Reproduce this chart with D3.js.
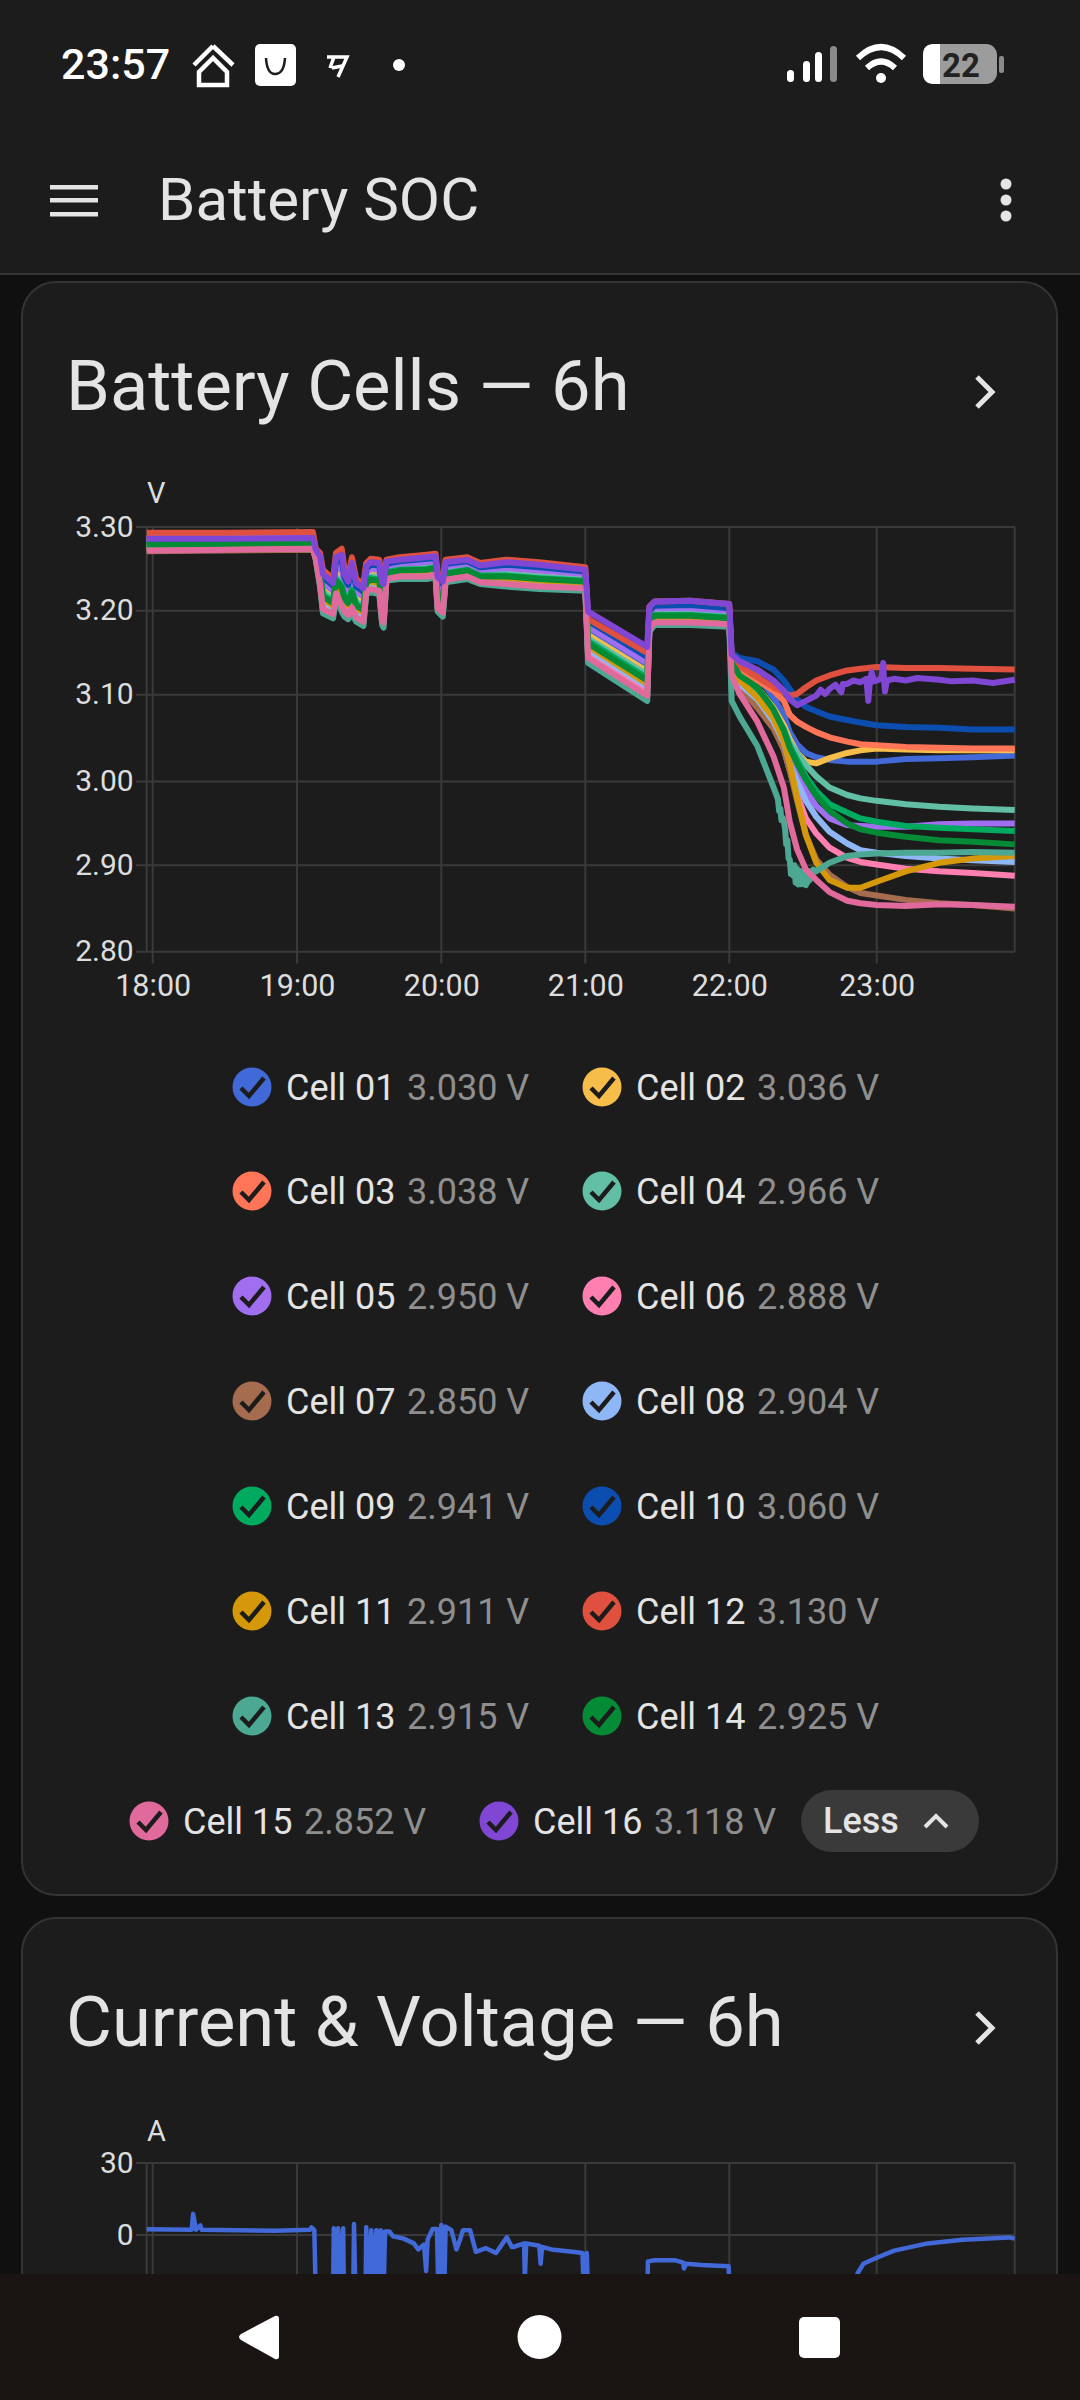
<!DOCTYPE html>
<html>
<head>
<meta charset="utf-8">
<title>Battery SOC</title>
<script src="https://cdn.jsdelivr.net/npm/d3@7"></script>
<style>
  html, body { margin: 0; padding: 0; background: #101010; }
  svg { display: block; font-family: Roboto, sans-serif; }
</style>
</head>
<body>
<div id="screen"></div>
<script>
// Time axis of the cell chart, in decimal hours
const times = [17.96,18.5,19.11,19.13,19.16,19.18,19.25,19.27,19.31,19.33,19.355,19.38,19.41,19.46,19.48,19.51,19.57,19.59,19.60,19.62,19.71,19.90,19.96,19.975,20.01,20.03,20.18,20.27,20.45,20.68,21.0,21.02,21.43,21.445,21.48,21.73,22.0,
  22.016,22.07,22.19,22.30,22.37,22.41,22.46,22.52,22.59,22.68,22.80,22.89,23.0,23.2,23.43,23.66,23.95];

const cell01 = [3.285,3.285,3.286,3.269,3.254,3.230,3.221,3.250,3.247,3.229,3.222,3.240,3.220,3.214,3.244,3.248,3.246,3.219,3.217,3.252,3.255,3.257,3.258,3.228,3.223,3.251,3.255,3.248,3.249,3.246,3.242,3.177,3.134,3.194,3.201,3.202,3.198,
  3.146,3.138,3.123,3.097,3.077,3.057,3.043,3.033,3.028,3.025,3.023,3.023,3.023,3.026,3.027,3.028,3.030];
const cell02 = [3.282,3.283,3.284,3.268,3.250,3.225,3.216,3.245,3.239,3.223,3.217,3.233,3.215,3.209,3.240,3.244,3.242,3.214,3.211,3.249,3.252,3.254,3.255,3.223,3.218,3.249,3.252,3.245,3.246,3.243,3.239,3.171,3.128,3.191,3.198,3.199,3.196,
  3.140,3.128,3.109,3.085,3.065,3.049,3.033,3.023,3.021,3.027,3.033,3.036,3.038,3.037,3.036,3.036,3.036];
const cell03 = [3.287,3.287,3.288,3.271,3.258,3.235,3.226,3.255,3.254,3.234,3.227,3.247,3.225,3.219,3.247,3.252,3.250,3.225,3.223,3.254,3.257,3.259,3.261,3.232,3.228,3.254,3.257,3.250,3.253,3.250,3.245,3.183,3.140,3.197,3.204,3.204,3.201,
  3.144,3.132,3.117,3.105,3.093,3.077,3.069,3.063,3.057,3.051,3.046,3.043,3.042,3.040,3.039,3.038,3.038];
const cell04 = [3.281,3.282,3.283,3.267,3.248,3.222,3.214,3.241,3.235,3.220,3.214,3.229,3.211,3.206,3.238,3.241,3.240,3.210,3.208,3.248,3.250,3.252,3.253,3.221,3.216,3.247,3.250,3.244,3.244,3.241,3.237,3.167,3.124,3.189,3.196,3.197,3.194,
  3.138,3.123,3.105,3.081,3.061,3.045,3.033,3.019,3.006,2.993,2.984,2.980,2.977,2.973,2.970,2.968,2.966];
const cell05 = [3.286,3.286,3.287,3.270,3.257,3.233,3.224,3.253,3.252,3.232,3.225,3.244,3.223,3.217,3.246,3.250,3.249,3.223,3.221,3.253,3.256,3.258,3.260,3.230,3.226,3.253,3.256,3.249,3.251,3.248,3.244,3.181,3.138,3.196,3.203,3.203,3.200,
  3.134,3.117,3.097,3.073,3.053,3.033,3.013,2.989,2.971,2.956,2.948,2.947,2.946,2.946,2.949,2.950,2.950];
const cell06 = [3.275,3.275,3.276,3.264,3.236,3.207,3.200,3.227,3.214,3.204,3.200,3.210,3.197,3.192,3.227,3.230,3.228,3.194,3.192,3.241,3.243,3.244,3.246,3.208,3.202,3.239,3.243,3.237,3.235,3.232,3.230,3.150,3.106,3.181,3.189,3.189,3.186,
  3.130,3.111,3.093,3.063,3.037,3.013,2.985,2.956,2.938,2.921,2.909,2.904,2.901,2.896,2.893,2.891,2.888];
const cell07 = [3.271,3.272,3.273,3.262,3.231,3.201,3.194,3.220,3.204,3.197,3.193,3.202,3.191,3.185,3.223,3.225,3.223,3.187,3.184,3.238,3.240,3.240,3.242,3.202,3.196,3.236,3.240,3.234,3.231,3.228,3.226,3.142,3.097,3.177,3.185,3.185,3.183,
  3.125,3.109,3.085,3.061,3.037,3.013,2.977,2.936,2.907,2.889,2.875,2.868,2.865,2.860,2.856,2.854,2.850];
const cell08 = [3.276,3.277,3.278,3.264,3.239,3.211,3.203,3.230,3.218,3.208,3.203,3.214,3.200,3.195,3.230,3.232,3.231,3.198,3.195,3.242,3.245,3.246,3.247,3.211,3.205,3.241,3.245,3.238,3.237,3.234,3.231,3.154,3.110,3.183,3.190,3.191,3.188,
  3.130,3.113,3.095,3.069,3.045,3.021,3.000,2.977,2.958,2.940,2.926,2.918,2.915,2.911,2.908,2.906,2.904];
const cell09 = [3.280,3.280,3.281,3.266,3.245,3.219,3.211,3.238,3.230,3.217,3.211,3.225,3.208,3.203,3.236,3.239,3.237,3.207,3.204,3.246,3.249,3.250,3.252,3.218,3.213,3.245,3.249,3.242,3.242,3.239,3.236,3.164,3.120,3.188,3.195,3.195,3.192,
  3.136,3.121,3.107,3.081,3.059,3.041,3.025,3.006,2.989,2.973,2.963,2.956,2.952,2.947,2.945,2.943,2.941];
const cell10 = [3.280,3.281,3.282,3.272,3.262,3.240,3.230,3.259,3.260,3.239,3.231,3.252,3.229,3.223,3.250,3.255,3.254,3.230,3.228,3.256,3.259,3.262,3.263,3.236,3.232,3.256,3.259,3.252,3.255,3.252,3.247,3.188,3.145,3.200,3.206,3.207,3.203,
  3.150,3.144,3.140,3.130,3.117,3.107,3.095,3.086,3.081,3.075,3.071,3.068,3.065,3.063,3.062,3.060,3.060];
const cell11 = [3.277,3.278,3.279,3.265,3.241,3.214,3.206,3.233,3.223,3.211,3.206,3.218,3.203,3.198,3.232,3.235,3.233,3.201,3.199,3.244,3.246,3.247,3.249,3.213,3.208,3.243,3.246,3.240,3.239,3.236,3.233,3.158,3.113,3.185,3.192,3.192,3.190,
  3.132,3.117,3.097,3.073,3.047,3.021,2.981,2.936,2.903,2.883,2.874,2.874,2.881,2.893,2.903,2.908,2.911];
const cell12 = [3.293,3.293,3.294,3.274,3.269,3.249,3.238,3.269,3.274,3.249,3.240,3.264,3.238,3.232,3.257,3.262,3.261,3.240,3.238,3.261,3.264,3.267,3.268,3.244,3.240,3.261,3.264,3.257,3.261,3.258,3.252,3.190,3.150,3.205,3.211,3.212,3.208,
  3.144,3.134,3.121,3.109,3.103,3.099,3.101,3.109,3.117,3.123,3.129,3.131,3.133,3.132,3.132,3.131,3.130];
const cell13 = [3.275,3.275,3.276,3.261,3.228,3.197,3.191,3.216,3.199,3.193,3.190,3.197,3.187,3.182,3.220,3.222,3.220,3.183,3.180,3.236,3.238,3.238,3.240,3.199,3.193,3.234,3.238,3.232,3.229,3.226,3.224,3.138,3.093,3.175,3.183,3.183,3.181,
  3.093,3.075,3.041,2.993,2.952,2.907,2.881,2.877,2.893,2.903,2.911,2.913,2.914,2.915,2.915,2.916,2.915];
const cell14 = [3.279,3.279,3.280,3.266,3.244,3.217,3.209,3.236,3.227,3.214,3.209,3.222,3.206,3.201,3.234,3.237,3.236,3.205,3.202,3.245,3.248,3.249,3.251,3.216,3.211,3.244,3.248,3.241,3.241,3.238,3.235,3.161,3.117,3.186,3.194,3.194,3.191,
  3.138,3.123,3.109,3.083,3.059,3.039,3.021,3.002,2.983,2.965,2.950,2.943,2.939,2.934,2.930,2.928,2.925];
const cell15 = [3.272,3.273,3.274,3.262,3.232,3.202,3.196,3.221,3.206,3.199,3.195,3.204,3.192,3.187,3.224,3.226,3.224,3.189,3.186,3.238,3.241,3.241,3.243,3.203,3.198,3.237,3.241,3.234,3.232,3.229,3.227,3.144,3.099,3.178,3.186,3.186,3.184,
  3.123,3.101,3.069,3.029,2.993,2.952,2.919,2.895,2.883,2.869,2.859,2.856,2.854,2.853,2.855,2.854,2.852];
const cell16 = [3.286,3.286,3.287,3.273,3.265,3.244,3.233,3.264,3.267,3.243,3.235,3.257,3.233,3.227,3.253,3.258,3.257,3.234,3.232,3.259,3.261,3.264,3.265,3.240,3.235,3.258,3.261,3.254,3.258,3.255,3.249,3.199,3.157,3.205,3.211,3.212,3.208,
  3.148,3.140,3.130,3.117,3.105,3.095,3.088,3.093,3.099,3.107,3.113,3.115,3.117,3.117,3.118,3.117,3.118];

// Extra readings: the spikes of cell 16 and the thick swing of cell 13 at its low point
const spikeTimes16 = [22.62,22.65,22.72,22.76,22.77,22.84,22.93,22.943,22.955,22.966,22.98,23.03,23.045,23.05,23.057,23.07,23.12,23.28,23.52,23.8];
const spikeValues16 = [3.106,3.101,3.112,3.103,3.113,3.117,3.119,3.093,3.118,3.127,3.116,3.119,3.138,3.118,3.104,3.117,3.119,3.120,3.116,3.114];
const swingTimes13 = [22.33,22.338,22.346,22.354,22.362,22.378,22.386,22.394,22.402,22.418,22.426,22.434,22.442,22.45,22.458,22.466,22.474,22.482,22.49,22.498,22.506,22.514,22.522,22.53,22.538,22.546,22.554,22.562,22.57];
const swingValues13 = [2.979,2.965,2.968,2.954,2.957,2.944,2.925,2.930,2.908,2.890,2.898,2.888,2.900,2.880,2.896,2.878,2.894,2.878,2.893,2.878,2.892,2.878,2.892,2.880,2.893,2.883,2.893,2.887,2.895];

const cellNames = ["Cell 01","Cell 02","Cell 03","Cell 04","Cell 05","Cell 06","Cell 07","Cell 08","Cell 09","Cell 10","Cell 11","Cell 12","Cell 13","Cell 14","Cell 15","Cell 16"];
const cellLabels = ["3.030 V","3.036 V","3.038 V","2.966 V","2.950 V","2.888 V","2.850 V","2.904 V","2.941 V","3.060 V","2.911 V","3.130 V","2.915 V","2.925 V","2.852 V","3.118 V"];
const cellColors = ["#4169d8","#f6bd4a","#ff7557","#62bfa5","#a26ef0","#ff7fb0","#a56c50","#8fb6f5","#00ab60","#0b4eb0","#d4980a","#e0503e","#4ca893","#058a35","#e06a9c","#8047d4"];

// Current chart (the lower part is covered by the navigation bar)
const currentTimes = [17.96,18.27,18.28,18.30,18.33,18.34,18.85,19.09,19.10,19.12,19.13,19.25,19.255,19.27,19.285,19.305,19.32,19.325,19.39,19.395,19.405,19.475,19.48,19.495,19.515,19.53,19.55,19.56,19.58,19.60,19.61,19.64,19.665,19.74,19.81,19.84,19.88,19.895,19.905,19.94,19.97,19.98,19.99,20.0,20.02,20.03,20.07,20.105,20.13,20.15,20.2,20.24,20.31,20.38,20.455,20.49,20.5,20.575,20.58,20.59,20.68,20.69,20.70,20.765,20.91,20.98,20.99,21.01,21.02,21.43,21.435,21.48,21.62,21.68,21.685,21.70,21.81,21.995,22.005,22.85,22.87,22.91,22.98,23.12,23.35,23.59,23.91,23.95];
const currentValues = [2.4,2.2,8.8,2.2,4.0,2.2,1.8,2.2,3.2,2.0,-25,-25,2.8,-25,2.8,-25,2.8,-25,-25,4.6,-25,-25,3.2,-25,2,-25,2,-25,2,-25,1.5,1.5,-0.5,-1.5,-3.5,-6,-4,-15,-2,2.5,2.5,-25,-25,4.2,-25,3.5,2.0,-6,-2,2,2,-7,-5.5,-7.5,-1,-5,-5,-3.5,-18,-3.5,-4.5,-12,-5,-6,-7,-7.5,-25,-7.5,-25,-25,-11,-10.5,-10.5,-11.5,-14,-12,-12.5,-13,-25,-25,-16,-12,-10,-6.5,-3.5,-2,-1,-1.5];

const hourTicks = [18,19,20,21,22,23];
const voltTicks = [2.8,2.9,3.0,3.1,3.2,3.3];
const ampTicks = [0,30];

const textColor = "#e4e4e4";
const gridColor = "#3a3a3a";
const cardColor = "#1c1c1c";

const svg = d3.select("#screen").append("svg")
  .attr("width", 1080)
  .attr("height", 2400)
  .attr("viewBox", "0 0 1080 2400");

svg.append("rect").attr("width", 1080).attr("height", 2400).attr("fill", "#101010");

// x scale is piecewise, the screenshot's hour lines are not quite evenly spaced
const x = d3.scaleLinear()
  .domain([17.96,18,19,20,21,22,23,23.95])
  .range([146.7,152.7,297,441.3,585.3,729.3,876.7,1014.7]);

const yCells = d3.scaleLinear()
  .domain(voltTicks)
  .range([951.7,865.3,781.6,694.8,610.8,527]);

const yAmps = d3.scaleLinear()
  .domain([0,30])
  .range([2235,2163]);

function text(parent, str, px, py, size, fill, opts = {}) {
  return parent.append("text")
    .attr("x", px)
    .attr("y", py)
    .attr("font-size", size)
    .attr("fill", fill)
    .attr("font-weight", opts.weight || 400)
    .attr("text-anchor", opts.anchor || "start")
    .text(str);
}

function card(top, bottom) {
  svg.append("rect")
    .attr("x", 22).attr("y", top)
    .attr("width", 1035).attr("height", bottom - top)
    .attr("rx", 34)
    .attr("fill", cardColor)
    .attr("stroke", "#343434")
    .attr("stroke-width", 2);
}

function cardHeader(title, baseline) {
  text(svg, title, 66, baseline, 70.5, textColor);
  svg.append("path")
    .attr("d", `M977,${baseline - 33} L992,${baseline - 18} L977,${baseline - 3}`)
    .attr("fill", "none")
    .attr("stroke", textColor)
    .attr("stroke-width", 5);
}

// Both charts share the same frame style
function frame(y, ticks, yTop, yBottom, fmt, unit, unitY, withHours) {
  const g = svg.append("g");
  const yAxis = g.append("g")
    .attr("transform", "translate(146.7,0)")
    .call(d3.axisLeft(y).tickValues(ticks).tickSize(0).tickPadding(13).tickFormat(fmt));
  yAxis.select(".domain").remove();
  yAxis.selectAll("text")
    .attr("font-family", "Roboto, sans-serif")
    .attr("font-size", 30)
    .attr("fill", "#dddddd")
    .attr("dy", "0.3em");

  g.append("g").selectAll("line")
    .data(ticks)
    .join("line")
    .attr("x1", 136).attr("x2", x.range()[7])
    .attr("y1", d => y(d)).attr("y2", d => y(d))
    .attr("stroke", gridColor).attr("stroke-width", 2);

  const xAxis = g.append("g")
    .attr("transform", `translate(0,${yBottom})`)
    .call(d3.axisBottom(x).tickValues(hourTicks).tickSize(0).tickPadding(23).tickFormat(d => withHours ? `${d}:00` : ""));
  xAxis.select(".domain").remove();
  xAxis.selectAll("text")
    .attr("font-family", "Roboto, sans-serif")
    .attr("font-size", 30.5)
    .attr("fill", "#dddddd");

  g.append("g").selectAll("line")
    .data(hourTicks)
    .join("line")
    .attr("x1", d => x(d)).attr("x2", d => x(d))
    .attr("y1", yTop).attr("y2", yBottom + 11.7)
    .attr("stroke", gridColor).attr("stroke-width", 2);

  // left and right edge of the plot
  g.selectAll(".edge")
    .data([x.range()[0], x.range()[7]])
    .join("line")
    .attr("class", "edge")
    .attr("x1", d => d).attr("x2", d => d)
    .attr("y1", yTop).attr("y2", yBottom)
    .attr("stroke", gridColor).attr("stroke-width", 2);

  text(svg, unit, 147, unitY, 29, "#dddddd");
}

// Status bar and toolbar
svg.append("rect").attr("width", 1080).attr("height", 273).attr("fill", cardColor);
svg.append("line").attr("x1", 0).attr("x2", 1080).attr("y1", 274).attr("y2", 274).attr("stroke", "#363636").attr("stroke-width", 2);

text(svg, "23:57", 61, 79, 43, "#ffffff", { weight: 500 });

svg.append("path")
  .attr("d", "M213,46 L233,65 M213,46 L194,65 M213,58 L199,72 L199,85 L227,85 L227,72 Z")
  .attr("fill", "none").attr("stroke", "#ffffff").attr("stroke-width", 4.5);
svg.append("rect").attr("x", 255).attr("y", 44).attr("width", 41).attr("height", 42).attr("rx", 5).attr("fill", "#ffffff");
svg.append("path").attr("d", "M266,58 Q267,74 275,74 Q284,74 285,58").attr("fill", "none").attr("stroke", cardColor).attr("stroke-width", 2.5);
svg.append("path").attr("d", "M327,57 L347,57 L338,77 M332,68 L342,66 M334,57 L330,68").attr("fill", "none").attr("stroke", "#ffffff").attr("stroke-width", 3.5);
svg.append("circle").attr("cx", 399).attr("cy", 65).attr("r", 6).attr("fill", "#ffffff");

svg.selectAll(".signal")
  .data([[791,70],[807,61],[819,52],[834,46]])
  .join("rect")
  .attr("class", "signal")
  .attr("x", d => d[0] - 4).attr("y", d => d[1])
  .attr("width", 7).attr("height", d => 82 - d[1])
  .attr("rx", 3.5)
  .attr("fill", (d, i) => i === 3 ? "#8a8a8a" : "#ffffff");

svg.append("path")
  .attr("d", "M858,58 Q881,36 904,58 M867,68 Q881,55 895,68")
  .attr("fill", "none").attr("stroke", "#ffffff").attr("stroke-width", 6);
svg.append("circle").attr("cx", 881).attr("cy", 78).attr("r", 5).attr("fill", "#ffffff");

svg.append("rect").attr("x", 923).attr("y", 44).attr("width", 74).attr("height", 40).attr("rx", 11).attr("fill", "#9c9c9c");
svg.append("path").attr("d", "M940,44 L934,44 Q923,44 923,55 L923,73 Q923,84 934,84 L940,84 Z").attr("fill", "#ffffff");
svg.append("rect").attr("x", 999).attr("y", 56).attr("width", 5).attr("height", 17).attr("rx", 2).attr("fill", "#8a8a8a");
text(svg, "22", 961, 77, 33, "#222222", { weight: 700, anchor: "middle" });

svg.selectAll(".burger")
  .data([185,198,212])
  .join("rect")
  .attr("class", "burger")
  .attr("x", 50).attr("y", d => d)
  .attr("width", 48).attr("height", 4.5)
  .attr("fill", textColor);
text(svg, "Battery SOC", 158, 220, 60, textColor);
svg.selectAll(".kebab")
  .data([184,200,216])
  .join("circle")
  .attr("class", "kebab")
  .attr("cx", 1006).attr("cy", d => d).attr("r", 5.5)
  .attr("fill", textColor);

// Card 1, cell voltages
card(282, 1895);
cardHeader("Battery Cells — 6h", 410);
frame(yCells, voltTicks, 527, 951.7, d3.format(".2f"), "V", 503, true);

const cells = [cell01,cell02,cell03,cell04,cell05,cell06,cell07,cell08,cell09,cell10,cell11,cell12,cell13,cell14,cell15,cell16];

const cellLine = d3.line()
  .x(d => x(d.t))
  .y(d => yCells(d.v));

function cellPoints(values, i) {
  const pts = values.map((v, k) => ({ t: times[k], v }));
  if (i === 15) spikeTimes16.forEach((t, k) => pts.push({ t, v: spikeValues16[k] }));
  if (i === 12) swingTimes13.forEach((t, k) => pts.push({ t, v: swingValues13[k] }));
  return pts.sort((a, b) => a.t - b.t);
}

svg.append("g").selectAll("path")
  .data(cells)
  .join("path")
  .attr("d", (d, i) => cellLine(cellPoints(d, i)))
  .attr("fill", "none")
  .attr("stroke", (d, i) => cellColors[i])
  .attr("stroke-width", 6)
  .attr("stroke-linejoin", "round");

// Legend: seven rows of two, then the last row with the Less button
const rowY = [1087,1191,1296,1401,1506,1611,1716,1821];
const legendItems = cellNames.map((name, i) => {
  const row = Math.floor(i / 2);
  const col = i % 2;
  return {
    name,
    value: cellLabels[i],
    color: cellColors[i],
    cx: row === 7 ? [149, 499][col] : [252, 602][col],
    cy: rowY[row]
  };
});

const legend = svg.append("g").selectAll("g")
  .data(legendItems)
  .join("g")
  .attr("transform", d => `translate(${d.cx},${d.cy})`);

legend.append("circle").attr("r", 19.5).attr("fill", d => d.color);
legend.append("path")
  .attr("d", "M-11,1 L-3,9 L12,-9")
  .attr("fill", "none")
  .attr("stroke", "#1c1c1c")
  .attr("stroke-width", 4.5);
legend.append("text")
  .attr("x", 34).attr("y", 12.5)
  .attr("font-size", 36)
  .attr("fill", textColor)
  .text(d => d.name);
legend.append("text")
  .attr("x", 155).attr("y", 12.5)
  .attr("font-size", 36)
  .attr("fill", "#8f8f8f")
  .text(d => d.value);

svg.append("rect").attr("x", 801).attr("y", 1790).attr("width", 178).attr("height", 62).attr("rx", 31).attr("fill", "#3a3a3a");
text(svg, "Less", 823, 1833, 36, textColor, { weight: 500 });
svg.append("path").attr("d", "M925,1827 L936,1816 L947,1827").attr("fill", "none").attr("stroke", textColor).attr("stroke-width", 4);

// Card 2, current
card(1918, 2450);
cardHeader("Current & Voltage — 6h", 2046);
frame(yAmps, ampTicks, 2163, 2400, d3.format("d"), "A", 2141, false);

const ampLine = d3.line()
  .x(d => x(d[0]))
  .y(d => yAmps(d[1]));

svg.append("path")
  .datum(currentTimes.map((t, i) => [t, currentValues[i]]))
  .attr("d", ampLine)
  .attr("fill", "none")
  .attr("stroke", cellColors[0])
  .attr("stroke-width", 4.5)
  .attr("stroke-linejoin", "round");

// Navigation bar
svg.append("rect").attr("y", 2274).attr("width", 1080).attr("height", 126).attr("fill", "#1a1512");
svg.append("path").attr("d", "M275,2316 L241,2334 Q237,2337 241,2340 L275,2359 Q279,2360 279,2356 L279,2319 Q279,2315 275,2316 Z").attr("fill", "#ffffff");
svg.append("circle").attr("cx", 539.5).attr("cy", 2337).attr("r", 22).attr("fill", "#ffffff");
svg.append("rect").attr("x", 799).attr("y", 2317).attr("width", 41).attr("height", 41).attr("rx", 5).attr("fill", "#ffffff");
</script>
</body>
</html>
